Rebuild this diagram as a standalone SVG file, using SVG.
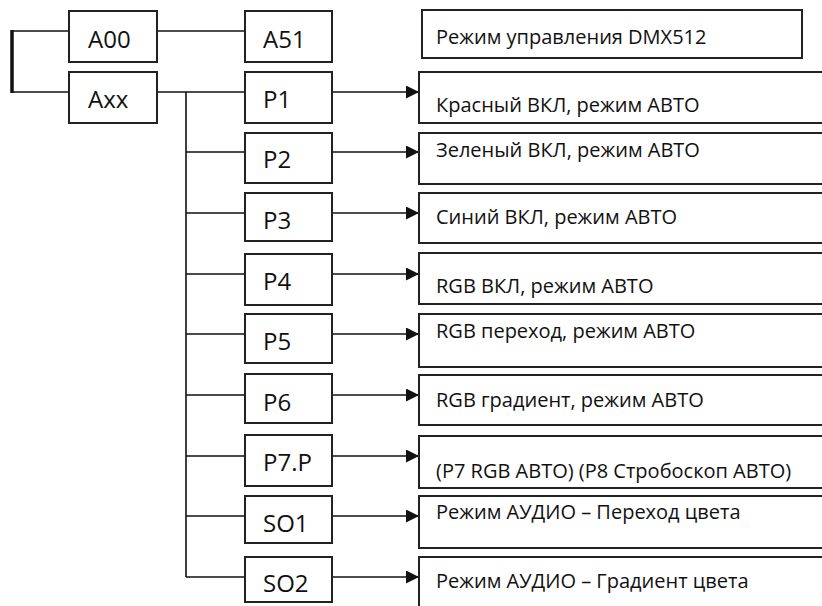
<svg xmlns="http://www.w3.org/2000/svg" width="822" height="606" viewBox="0 0 822 606">
<defs>
<style>
.box{fill:#fff;stroke:#222;stroke-width:2}
.lbl{font-family:"Open Sans","Liberation Sans",sans-serif;font-size:24px;fill:#111}
.txt{font-family:"Open Sans","Liberation Sans",sans-serif;font-size:20px;fill:#111}
.ln{fill:none;stroke:#111;stroke-width:1.6}
</style>
<marker id="arr" viewBox="0 0 10 10" refX="10" refY="5" markerWidth="13" markerHeight="13" markerUnits="userSpaceOnUse" orient="auto">
<path d="M0,0 L10,5 L0,10 Z" fill="#111"/>
</marker>
</defs>
<rect width="822" height="606" fill="#fff"/>
<g id="connectors">
<path class="ln" d="M12,31 H69 M12,92 H69"/>
<path d="M12,30 V93" stroke="#111" stroke-width="3.5" fill="none"/>
<path class="ln" d="M157,31 H245"/>
<path class="ln" d="M157,92 H245"/>
<path class="ln" d="M186,92 V577"/>
<path class="ln" d="M186,152 H245 M186,213 H245 M186,274 H245 M186,334 H245 M186,395 H245 M186,456 H245 M186,516 H245 M186,577 H245"/>
<path class="ln" marker-end="url(#arr)" d="M332,92 H419"/>
<path class="ln" marker-end="url(#arr)" d="M332,152 H419"/>
<path class="ln" marker-end="url(#arr)" d="M332,213 H419"/>
<path class="ln" marker-end="url(#arr)" d="M332,274 H419"/>
<path class="ln" marker-end="url(#arr)" d="M332,334 H419"/>
<path class="ln" marker-end="url(#arr)" d="M332,395 H419"/>
<path class="ln" marker-end="url(#arr)" d="M332,456 H419"/>
<path class="ln" marker-end="url(#arr)" d="M332,516 H419"/>
<path class="ln" marker-end="url(#arr)" d="M332,577 H419"/>
</g>
<g id="A00"><rect class="box" x="69" y="11" width="88" height="51"/><text class="lbl" x="88" y="48">A00</text></g>
<g id="Axx"><rect class="box" x="69" y="72" width="88" height="51"/><text class="lbl" x="88" y="108">Axx</text></g>
<g id="A51"><rect class="box" x="245" y="11" width="87" height="51"/><text class="lbl" x="263" y="48">A51</text></g>
<g id="P1"><rect class="box" x="245" y="72" width="87" height="51"/><text class="lbl" x="263" y="108">P1</text></g>
<g id="P2"><rect class="box" x="245" y="133" width="87" height="50"/><text class="lbl" x="263" y="168">P2</text></g>
<g id="P3"><rect class="box" x="245" y="193" width="87" height="48"/><text class="lbl" x="263" y="229">P3</text></g>
<g id="P4"><rect class="box" x="245" y="254" width="87" height="51"/><text class="lbl" x="263" y="290">P4</text></g>
<g id="P5"><rect class="box" x="245" y="314" width="87" height="49"/><text class="lbl" x="263" y="350">P5</text></g>
<g id="P6"><rect class="box" x="245" y="374" width="87" height="49"/><text class="lbl" x="263" y="411">P6</text></g>
<g id="P7P"><rect class="box" x="245" y="435" width="87" height="51"/><text class="lbl" x="263" y="471">P7.P</text></g>
<g id="SO1"><rect class="box" x="245" y="496" width="87" height="47"/><text class="lbl" x="263" y="532">SO1</text></g>
<g id="SO2"><rect class="box" x="245" y="557" width="87" height="45"/><text class="lbl" x="263" y="592">SO2</text></g>
<g id="DMX"><rect class="box" x="422" y="10" width="380" height="48"/><text class="txt" x="436" y="44">Режим управления DMX512</text></g>
<g id="R1"><rect class="box" x="419" y="72" width="410" height="51"/><text class="txt" x="436" y="112">Красный ВКЛ, режим АВТО</text></g>
<g id="R2"><rect class="box" x="419" y="133" width="410" height="51"/><text class="txt" x="436" y="157">Зеленый ВКЛ, режим АВТО</text></g>
<g id="R3"><rect class="box" x="419" y="193" width="410" height="50"/><text class="txt" x="436" y="224">Синий ВКЛ, режим АВТО</text></g>
<g id="R4"><rect class="box" x="419" y="253" width="410" height="51"/><text class="txt" x="436" y="293">RGB ВКЛ, режим АВТО</text></g>
<g id="R5"><rect class="box" x="419" y="314" width="410" height="53"/><text class="txt" x="436" y="338">RGB переход, режим АВТО</text></g>
<g id="R6"><rect class="box" x="419" y="375" width="410" height="50"/><text class="txt" x="436" y="407">RGB градиент, режим АВТО</text></g>
<g id="R7"><rect class="box" x="419" y="436" width="410" height="52"/><text class="txt" x="436" y="478">(P7 RGB АВТО) (P8 Стробоскоп АВТО)</text></g>
<g id="R8"><rect class="box" x="419" y="496" width="410" height="52"/><text class="txt" x="436" y="519">Режим АУДИО – Переход цвета</text></g>
<g id="R9"><rect class="box" x="419" y="557" width="410" height="60"/><text class="txt" x="436" y="588">Режим АУДИО – Градиент цвета</text></g>
</svg>
